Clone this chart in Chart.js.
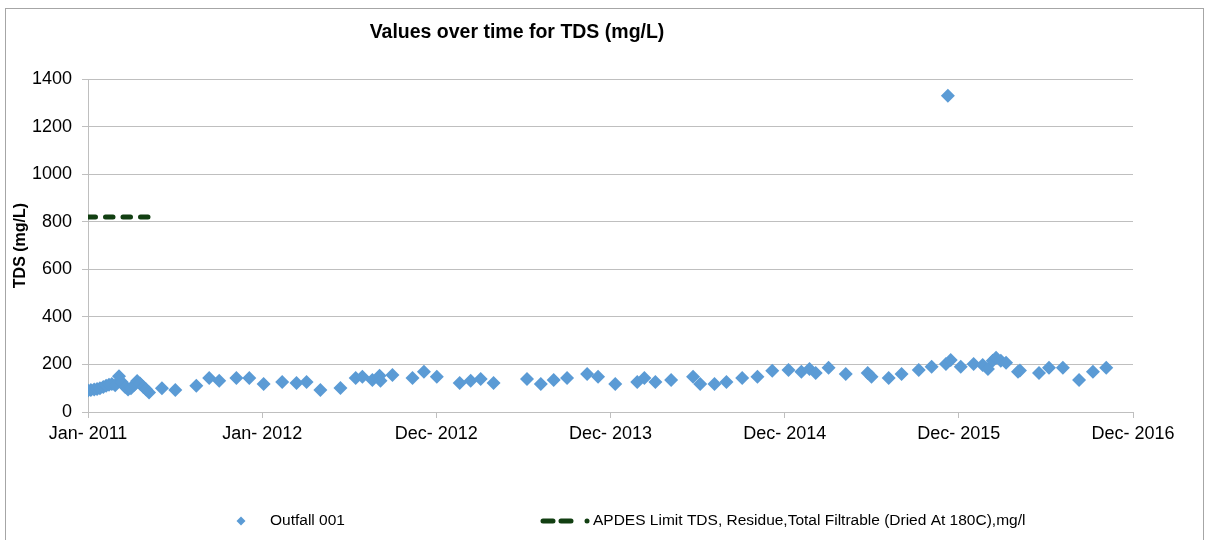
<!DOCTYPE html>
<html>
<head>
<meta charset="utf-8">
<script src="https://cdn.jsdelivr.net/npm/chart.js@4/dist/chart.umd.min.js"></script>
<style>
    html, body { margin: 0; padding: 0; background: #fff; }
    #wrap { position: relative; width: 1208px; height: 540px; overflow: hidden; }
    #frame { position: absolute; left: 5px; top: 8px; width: 1199px; height: 560px; border: 1px solid #a6a6a6; box-sizing: border-box; }
    #chart { position: absolute; left: 0; top: 0; }
</style>
</head>
<body>
<div id="wrap">
    <div id="frame"></div>
    <canvas id="chart" width="1208" height="540"></canvas>
</div>
<script>
// Values over time for TDS (mg/L)

const chartTitle = "Values over time for TDS (mg/L)";
const yTitle = "TDS (mg/L)";
const seriesNames = ["Outfall 001", "APDES Limit TDS, Residue,Total Filtrable (Dried At 180C),mg/l"];

// x axis: days since 1 Jan 2011, one label every 365 days
const xTickLabels = ["Jan- 2011", "Jan- 2012", "Dec- 2012", "Dec- 2013", "Dec- 2014", "Dec- 2015", "Dec- 2016"];
const xStepDays = 365;

// Outfall 001 samples (day, mg/L)
const sampleDays = [
    0, 6, 13, 19, 25, 32, 38, 44, 50, 57, 65, 71, 78, 84, 90, 97, 103, 109, 116, 122, 128,
    155, 183, 227, 254, 275, 311, 338, 368, 407, 437, 458, 487, 529, 561, 575, 596, 611, 613,
    638, 680, 704, 731, 779, 802, 823, 850, 920, 949, 976, 1004, 1046, 1069, 1105, 1151, 1166,
    1189, 1222, 1268, 1283, 1313, 1338, 1371, 1403, 1434, 1468, 1495, 1512, 1525, 1552, 1588,
    1634, 1642, 1678, 1705, 1741, 1768, 1798, 1802, 1808, 1829, 1856, 1875, 1886, 1896, 1903,
    1913, 1924, 1949, 1953, 1993, 2014, 2043, 2077, 2106, 2134
];
const sampleValues = [
    90, 92, 95, 97, 100, 105, 110, 115, 118, 112, 150, 125, 105, 95, 100, 115, 130, 120, 105, 95, 82,
    100, 92, 110, 143, 131, 143, 143, 118, 126, 122, 126, 93, 101, 143, 148, 135, 152, 131,
    156, 143, 169, 148, 122, 131, 139, 122, 139, 118, 135, 143, 160, 148, 118, 126, 143,
    126, 135, 148, 118, 118, 126, 143, 148, 173, 177, 169, 181, 164, 186, 160,
    164, 148, 143, 160, 177, 190, 202, 1330, 219, 190, 202, 198, 181, 215, 228,
    215, 207, 169, 175, 164, 186, 186, 135, 169, 186
];

// APDES limit line
const limitDays = [0, 126];
const limitValues = [820, 820];

const yMin = 0;
const yMax = 1400;
const yStep = 200;

const pointColor = "#5b9bd5";
const limitColor = "#123f12";
const gridColor = "#bfbfbf";

function toPoints(xs, ys) {
    return xs.map((x, i) => ({ x: x, y: ys[i] }));
}

// title, legend drawn by hand to match the original layout
const decorPlugin = {
    id: "decor",
    afterDraw(chart) {
        const ctx = chart.ctx;
        ctx.save();
        ctx.fillStyle = "#000";
        ctx.textBaseline = "middle";
        ctx.textAlign = "center";
        ctx.font = "bold 19.5px 'Liberation Sans', Arial, sans-serif";
        ctx.fillText(chartTitle, 517, 33);

        // legend item 1: diamond marker
        const ly = 521;
        ctx.fillStyle = pointColor;
        ctx.beginPath();
        ctx.moveTo(241, ly - 4.5);
        ctx.lineTo(245.5, ly);
        ctx.lineTo(241, ly + 4.5);
        ctx.lineTo(236.5, ly);
        ctx.closePath();
        ctx.fill();

        ctx.fillStyle = "#000";
        ctx.textAlign = "left";
        ctx.font = "15.5px 'Liberation Sans', Arial, sans-serif";
        ctx.fillText(seriesNames[0], 270, ly);

        // legend item 2: dashed line sample
        ctx.strokeStyle = limitColor;
        ctx.lineWidth = 5;
        ctx.lineCap = "round";
        ctx.beginPath();
        ctx.moveTo(543, ly); ctx.lineTo(553, ly);
        ctx.moveTo(561, ly); ctx.lineTo(571, ly);
        ctx.stroke();
        ctx.fillStyle = limitColor;
        ctx.beginPath();
        ctx.arc(587, ly, 2.5, 0, Math.PI * 2);
        ctx.fill();

        ctx.fillStyle = "#000";
        ctx.fillText(seriesNames[1], 593, ly);
        ctx.restore();
    }
};

const tickFont = { family: "'Liberation Sans', Arial, sans-serif", size: 18 };

new Chart(document.getElementById("chart"), {
    type: "scatter",
    data: {
        datasets: [
            {
                label: seriesNames[1],
                type: "line",
                data: toPoints(limitDays, limitValues),
                borderColor: limitColor,
                borderWidth: 5,
                borderDash: [7.5, 10],
                borderCapStyle: "round",
                pointRadius: 0,
                fill: false
            },
            {
                label: seriesNames[0],
                data: toPoints(sampleDays, sampleValues),
                pointStyle: "rectRot",
                pointRadius: 7,
                pointBackgroundColor: pointColor,
                pointBorderColor: pointColor,
                pointBorderWidth: 0
            }
        ]
    },
    options: {
        responsive: false,
        animation: false,
        layout: { padding: { left: 0, top: 79, right: 75, bottom: 0 } },
        plugins: {
            legend: { display: false },
            title: { display: false },
            tooltip: { enabled: false }
        },
        scales: {
            x: {
                type: "linear",
                min: 0,
                max: xStepDays * (xTickLabels.length - 1),
                afterFit: (scale) => { scale.height = 128; },
                ticks: {
                    stepSize: xStepDays,
                    maxRotation: 0,
                    autoSkip: false,
                    padding: 5,
                    color: "#000",
                    font: tickFont,
                    callback: (value) => xTickLabels[Math.round(value / xStepDays)]
                },
                grid: {
                    drawOnChartArea: false,
                    drawTicks: true,
                    tickLength: 6,
                    color: gridColor
                },
                border: { color: gridColor }
            },
            y: {
                min: yMin,
                max: yMax,
                afterFit: (scale) => { scale.width = 88; },
                ticks: {
                    stepSize: yStep,
                    padding: 10,
                    color: "#000",
                    font: tickFont,
                    callback: (value) => String(value)
                },
                grid: {
                    color: gridColor,
                    tickLength: 6
                },
                border: { color: gridColor },
                title: {
                    display: true,
                    text: yTitle,
                    color: "#000",
                    font: { family: "'Liberation Sans', Arial, sans-serif", size: 16, weight: "bold" },
                    padding: { top: 11, bottom: 0 }
                }
            }
        }
    },
    plugins: [decorPlugin]
});
</script>
</body>
</html>
